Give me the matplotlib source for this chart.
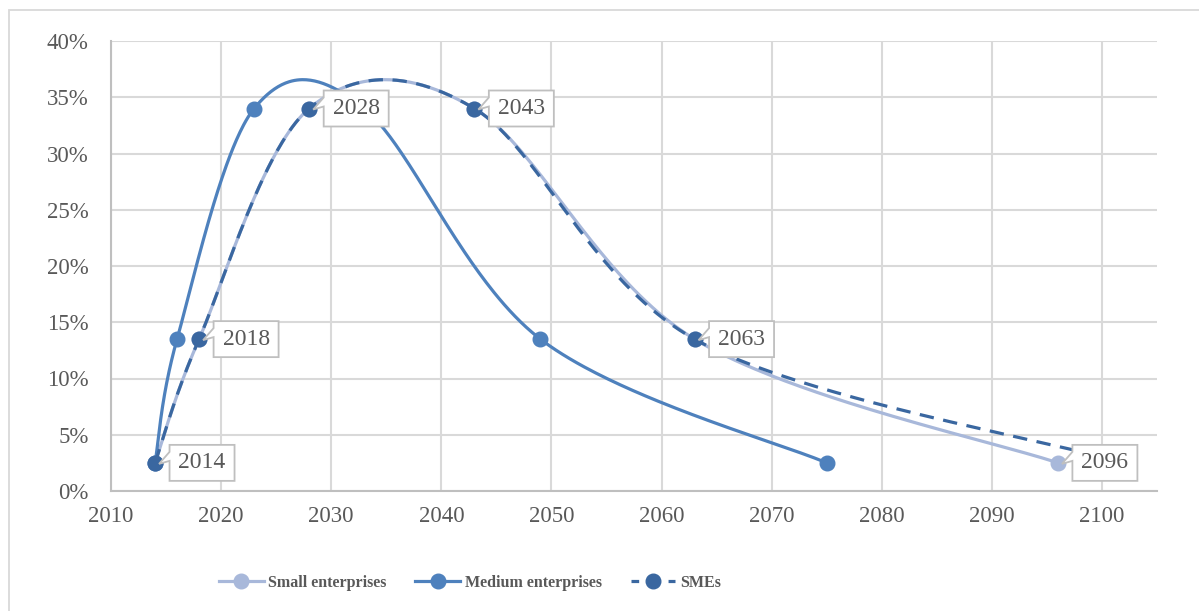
import numpy as np
import matplotlib
matplotlib.use("Agg")
import matplotlib.pyplot as plt
from matplotlib.path import Path
from matplotlib.lines import Line2D
from matplotlib.patches import Rectangle
from matplotlib.ticker import FuncFormatter, MultipleLocator

# ---- data -------------------------------------------------------------
years_small = [2014, 2018, 2028, 2043, 2063, 2096]
share_small = [2.5, 13.5, 34.0, 34.0, 13.5, 2.5]

years_medium = [2014, 2016, 2023, 2033, 2049, 2075]
share_medium = [2.5, 13.5, 34.0, 34.0, 13.5, 2.5]

years_smes = [2014, 2018, 2028, 2043, 2063, 2100]
share_smes = [2.5, 13.5, 34.0, 34.0, 13.5, 3.0]

series_names = ["Small enterprises", "Medium enterprises", "SMEs"]

# points carrying a year call-out: (series index, point index)
callouts = [(2, 0), (2, 1), (2, 2), (2, 3), (2, 4), (0, 5)]

x_ticks = list(range(2010, 2101, 10))
y_ticks = list(range(0, 41, 5))

# ---- style ------------------------------------------------------------
C_SMALL = "#A8B8DA"
C_MEDIUM = "#4E81BD"
C_SMES = "#3A67A0"
GRID = "#D9D9D9"
AXIS = "#BFBFBF"
TEXT = "#595959"
FONT = "Liberation Serif"

plt.rcParams["font.family"] = [FONT, "DejaVu Serif"]


def smooth(xs, ys, n=80):
    """Cubic Bezier smoothing through every point (Catmull-Rom tangents)."""
    p = np.column_stack([xs, ys]).astype(float)
    out = [p[0]]
    t = np.linspace(0, 1, n)[1:, None]
    for i in range(len(p) - 1):
        p0 = p[max(i - 1, 0)]
        p1 = p[i]
        p2 = p[i + 1]
        p3 = p[min(i + 2, len(p) - 1)]
        c1 = p1 + (p2 - p0) / 6.0
        c2 = p2 - (p3 - p1) / 6.0
        seg = ((1 - t) ** 3) * p1 + 3 * ((1 - t) ** 2) * t * c1 \
            + 3 * (1 - t) * t ** 2 * c2 + t ** 3 * p2
        out.extend(seg)
    a = np.array(out)
    return a[:, 0], a[:, 1]


def callout_box(x0, y0, width, height, mutation_size):
    """Fixed-size label box with a small pointer on its left side."""
    cx = x0 + width / 2.0
    cy = y0 + height / 2.0
    w, h = 65.0, 36.0
    L, R = cx - w / 2, cx + w / 2
    B, T = cy - h / 2, cy + h / 2
    tip = (cx - 43.0, cy - 1.0)
    verts = [(L, B), (R, B), (R, T), (L, T),
             (L, cy + 11.0), tip, (L, cy + 2.0), (L, B)]
    codes = [Path.MOVETO] + [Path.LINETO] * 6 + [Path.CLOSEPOLY]
    return Path(verts, codes)


# ---- figure -----------------------------------------------------------
fig = plt.figure(figsize=(11.99, 6.11), dpi=100)
W, H = 1199.0, 611.0

# chart frame
fig.patches.append(Rectangle((9 / W, -0.5), 2.0, 1.5 - 10 / H,
                             transform=fig.transFigure, fill=False,
                             ec=GRID, lw=1.3, zorder=0))

ax = fig.add_axes([111 / W, 120 / H, (1157 - 111) / W, (491 - 41) / H])
ax.set_xlim(2010, 2105)
ax.set_ylim(0, 40)
ax.set_xticks(x_ticks)
ax.yaxis.set_major_locator(MultipleLocator(5))
ax.yaxis.set_major_formatter(FuncFormatter(lambda v, _: f"{v:.0f}%"))
ax.grid(True, color=GRID, lw=1.5)
ax.set_axisbelow(True)
for s in ("top", "right"):
    ax.spines[s].set_visible(False)
for s in ("left", "bottom"):
    ax.spines[s].set_color(AXIS)
    ax.spines[s].set_linewidth(1.5)
ax.tick_params(length=0, labelsize=16.5, labelcolor=TEXT)
ax.tick_params(axis="y", pad=16)
ax.tick_params(axis="x", pad=11)

series = [
    (years_small, share_small, C_SMALL, "-"),
    (years_medium, share_medium, C_MEDIUM, "-"),
    (years_smes, share_smes, C_SMES, "--"),
]
handles = []
for k, (xs, ys, col, ls) in enumerate(series):
    sx, sy = smooth(xs, ys)
    line, = ax.plot(sx, sy, color=col, lw=2.3, ls=ls, zorder=3 + k,
                    solid_capstyle="round", dash_capstyle="butt")
    if ls == "--":
        line.set_dashes((4.5, 3.0))
    ax.plot(xs, ys, "o", color=col, ms=10.5, mec=col, zorder=3 + k,
            clip_on=False)
    h = Line2D([], [], color=col, lw=2.3, marker="o", ms=10.5,
               ls=ls, label=series_names[k])
    if ls == "--":
        h.set_dashes((2.4, 9.2))
    handles.append(h)

for si, pi in callouts:
    xs, ys = series[si][0], series[si][1]
    ax.annotate(f"{xs[pi]}", xy=(xs[pi], ys[pi]), xytext=(47, 0),
                textcoords="offset pixels", ha="center", va="center",
                fontsize=17, color=TEXT, zorder=10,
                bbox=dict(boxstyle=callout_box, fc="white", ec=AXIS,
                          lw=1.3))

leg = fig.legend(handles=handles, loc="center", ncol=3,
                 bbox_to_anchor=(470 / W, 1 - 583 / H), frameon=False,
                 prop=dict(family=FONT, weight="bold", size=11.5),
                 handlelength=2.8, handletextpad=0.3, columnspacing=1.8,
                 labelcolor=TEXT)

fig.savefig("out.png", dpi=100)
